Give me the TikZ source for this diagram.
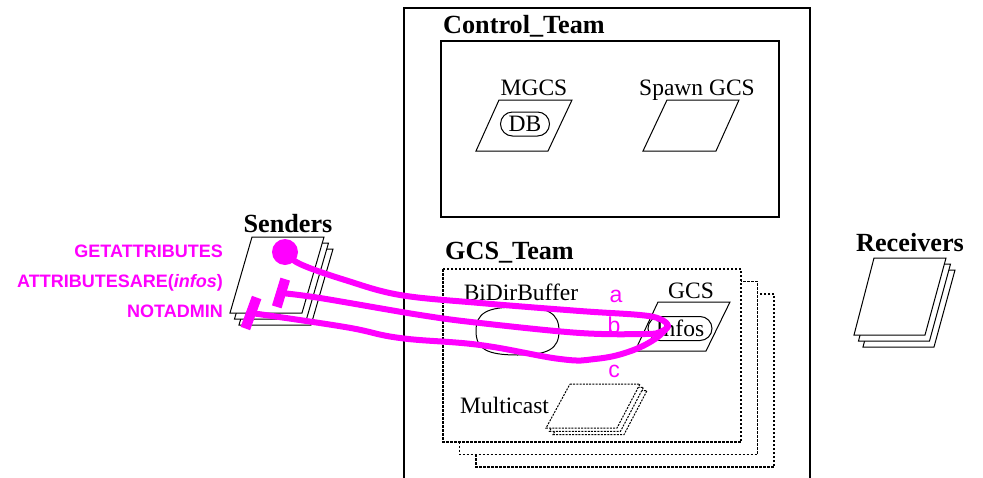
\documentclass[tikz,border=0pt]{standalone}
\usepackage{fontspec}
\setmainfont{Liberation Serif}
\newfontfamily\msgfont{Liberation Sans}
\usetikzlibrary{shapes.misc}
\definecolor{msgcol}{RGB}{255,0,255}

\begin{document}
\begin{tikzpicture}[x=1pt,y=-1pt,
  frame/.style={draw, line width=2pt},
  pg/.style={draw, fill=white, line width=1pt, line join=miter},
  dbox/.style={draw, fill=white, line width=1.2pt, dash pattern=on 2.5pt off 1.5pt},
  title/.style={font=\fontsize{26.2}{31}\selectfont\bfseries, inner sep=0pt},
  lbl/.style={font=\fontsize{23.5}{28}\selectfont, inner sep=0pt},
  msg/.style={font=\msgfont\fontsize{18}{22}\selectfont\bfseries, text=msgcol, inner sep=0pt, anchor=base east},
  tag/.style={font=\msgfont\fontsize{23}{27}\selectfont, text=msgcol, inner sep=0pt, anchor=base},
  flow/.style={draw=msgcol, line width=6pt, line cap=round, line join=round},
  stad/.style={draw, rounded rectangle, line width=1pt, inner sep=0pt, minimum height=24pt, font=\fontsize{23.5}{28}\selectfont},
  endbar/.style={rectangle, fill=msgcol, minimum width=10pt, inner sep=0pt},
]
\useasboundingbox (0,0) rectangle (983,477);

% outer frame (open at the bottom)
\draw[frame] (404,490) -- (404,8) -- (810,8) -- (810,490);

% Control team
\node[title, anchor=base west] (ctl) at (443,33) {Control\_Team};
\draw[frame] (441,41) rectangle (779,217);
\node[lbl, anchor=base] (mgcsl) at (534,95) {MGCS};
\draw[pg] (499,100) -- (572,100) -- (548,151) -- (476,151) -- cycle;
\node[stad, minimum width=49pt] (db) at (525,124) {DB};
\node[lbl, anchor=base] (spawnl) at (697,95) {Spawn GCS};
\draw[pg] (667,100) -- (739,100) -- (716,151) -- (643,151) -- cycle;

% GCS team (stacked dashed frames)
\node[title, anchor=base west] (gcst) at (445,259) {GCS\_Team};
\foreach \d in {2,1,0}
  \draw[dbox, shift={(\d*16.5,\d*12.5)}] (443,269) rectangle (741,442);
\node[lbl, anchor=base] (bidl) at (521,300) {BiDirBuffer};
% buffer outline: a squarish oval
\draw[line width=1pt] (476,331) .. controls (476,313) and (487,307) .. (517.5,307)
  .. controls (548,307) and (559,313) .. (559,331)
  .. controls (559,349) and (548,355) .. (517.5,355)
  .. controls (487,355) and (476,349) .. (476,331) -- cycle;
\node[lbl, anchor=base] (gcsl) at (691,298) {GCS};
\draw[pg] (658,302) -- (730,302) -- (706,351) -- (635,351) -- cycle;
\node[stad, minimum width=64pt] (infos) at (680,328.5) {Infos};
\node[lbl, anchor=base west] (mcl) at (460,413) {Multicast};
\foreach \d in {2,1,0}
  \draw[pg, dash pattern=on 2pt off 1.2pt, shift={(\d*3.5,\d*3.3)}] (570,384) -- (640,384) -- (617,428) -- (546,428) -- cycle;

% Senders and receivers
\node[title, anchor=base] (sendl) at (288,232) {Senders};
\foreach \d in {2,1,0}
  \draw[pg, shift={(\d*4.5,\d*6)}] (252,237) -- (324,237) -- (302,313) -- (230,313) -- cycle;
\node[title, anchor=base] (recvl) at (910,251) {Receivers};
\foreach \d in {2,1,0}
  \draw[pg, shift={(\d*4.5,\d*6)}] (874,258) -- (946,258) -- (925,335) -- (854,335) -- cycle;

% message names
\node[msg] (m1) at (223,257) {GETATTRIBUTES};
\node[msg] (m2) at (223,287) {ATTRIBUTESARE(\textit{infos})};
\node[msg] (m3) at (223,317) {NOTADMIN};

% message flows
\node[circle, fill=msgcol, minimum size=26pt, inner sep=0pt] (src) at (285,252) {};
\node[endbar, minimum height=29pt, rotate=-17] (endb) at (281,293) {};
\node[endbar, minimum height=33pt, rotate=-20] (endc) at (251,313) {};
\coordinate (tip) at (668,326);
\draw[flow] plot[smooth, tension=0.6] coordinates {(src) (300,264) (345,280) (400,295) (480,303) (580,311) (640,315) (660,319) (tip) (660,332) (645,334) (580,333) (480,323) (420,315) (320,298) (endb)};
\draw[flow] plot[smooth, tension=0.7] coordinates {(tip) (655,339) (628,352) (595,359) (560,359) (480,345) (400,338) (345,327) (endc)};
\node[tag] (la) at (616,302) {a};
\node[tag] (lb) at (614,333) {b};
\node[tag] (lc) at (614,377) {c};
\end{tikzpicture}
\end{document}
